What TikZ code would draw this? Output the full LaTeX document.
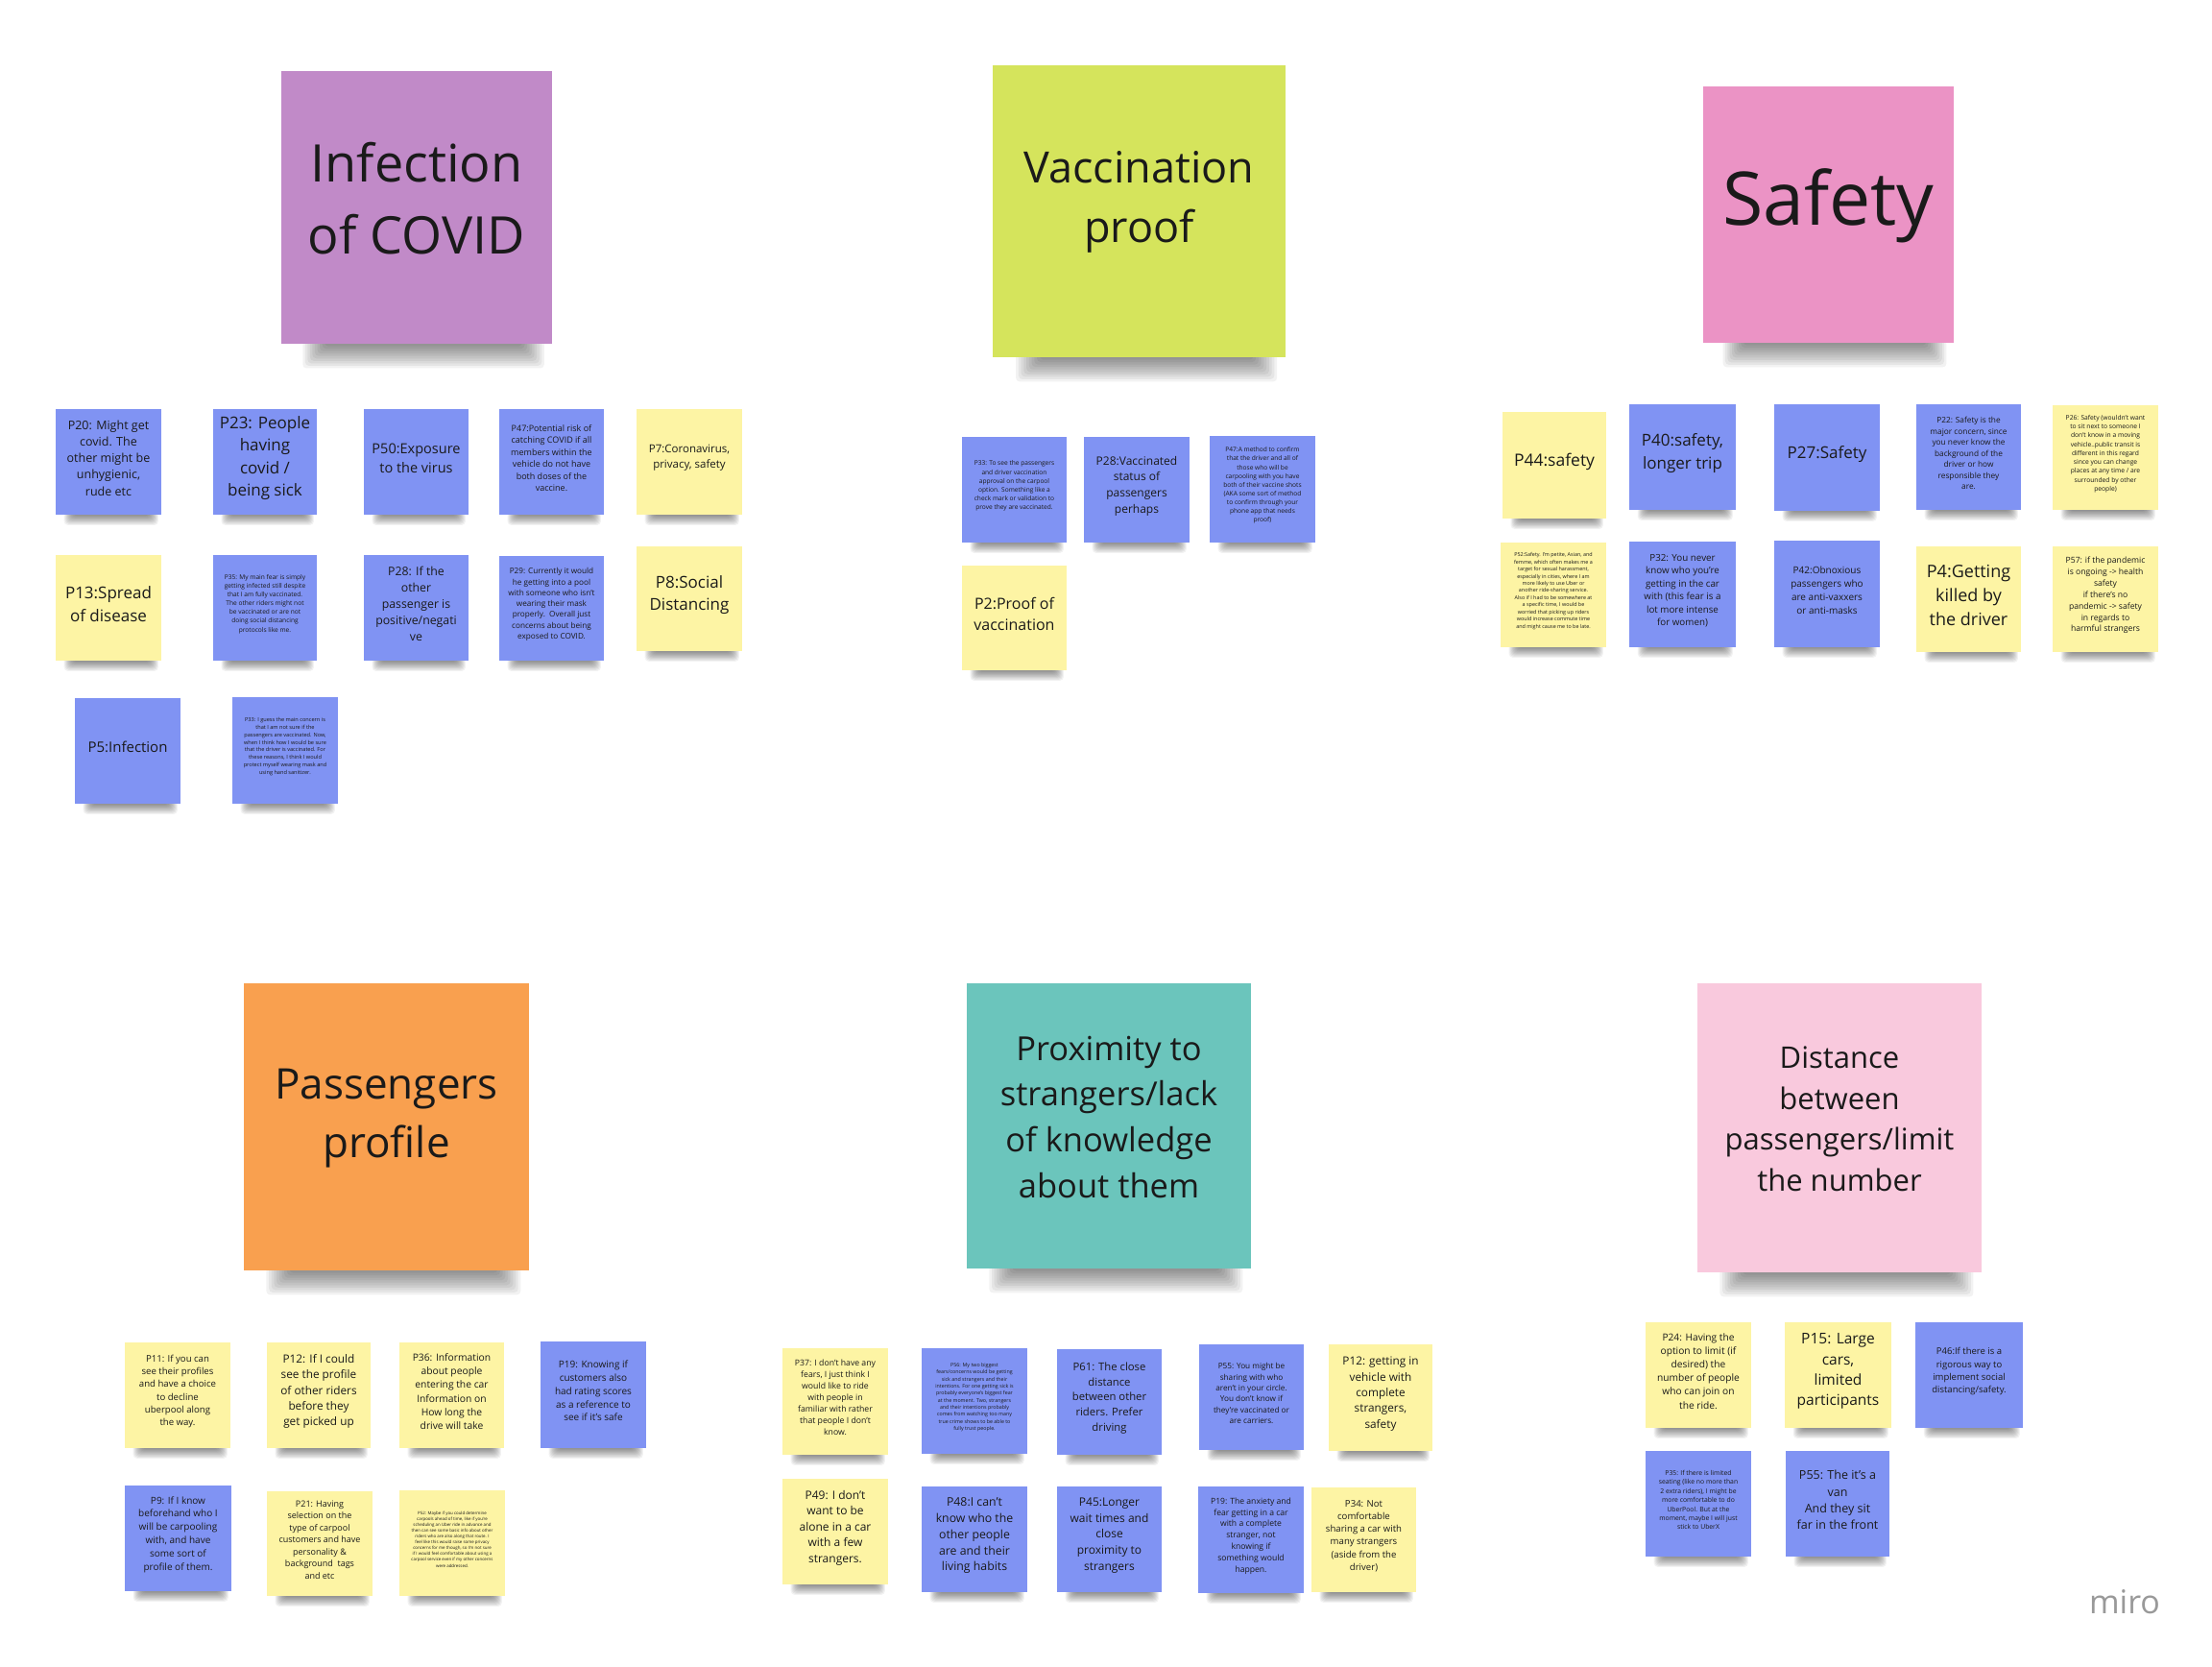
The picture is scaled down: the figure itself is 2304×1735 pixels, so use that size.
\documentclass[tikz,border=0pt]{standalone}
\usepackage{fontspec}
\setmainfont{Open Sans}
\definecolor{nblue}{HTML}{8093F3}
\definecolor{nyel}{HTML}{FDF4A4}
\definecolor{cpurple}{HTML}{C18AC8}
\definecolor{clime}{HTML}{D5E45C}
\definecolor{cpink}{HTML}{EB93C5}
\definecolor{corange}{HTML}{F9A04F}
\definecolor{cteal}{HTML}{6BC5BC}
\definecolor{clpink}{HTML}{F9C9DD}
\definecolor{ink}{HTML}{1A1A1A}
\newcommand\fsz[1]{\pgfmathsetmacro\mybls{1.38*#1}\fontsize{#1}{\mybls}\selectfont}
\tikzset{
  tsz/.style={font=\fsz{#1}},
  anote/.style={rectangle, inner sep=0pt, align=center, text=ink},
  bnote/.style={anote, fill=nblue},
  ynote/.style={anote, fill=nyel},
  hnote/.style={anote},
}
\newcommand\nshadow[5]{%
  \pgfmathsetmacro\shw{#3-#1}%
  \foreach \i in {1,...,10}{%
    \pgfmathsetmacro\sa{#1+0.07*\shw+\i*0.009*\shw}%
    \pgfmathsetmacro\sb{#3-0.02*\shw-\i*0.009*\shw}%
    \pgfmathsetmacro\sd{#4+#5*(1-\i/11)}%
    \fill[black,opacity=0.05,rounded corners=4pt] (\sa,#4-4) rectangle (\sb,\sd);
  }%
}
\newcommand\stick[8][12]{%
  \nshadow{#4}{#5}{#6}{#7}{#1}%
  \pgfmathsetmacro\cw{#6-#4}\pgfmathsetmacro\ch{#7-#5}%
  \pgfmathsetmacro\cx{(#4+#6)/2}\pgfmathsetmacro\cy{(#5+#7)/2}%
  \pgfmathsetmacro\tup{0.33*#1}%
  \node[#3, minimum width=\cw pt, minimum height=\ch pt] (#2) at (\cx,\cy) {};
  \node[#3, fill=none, yshift=\tup pt] (#2-text) at (#2.center) {#8};
}
\begin{document}
\begin{tikzpicture}[x=1pt,y=-1pt]
\path[use as bounding box, fill=white] (0,0) rectangle (2304,1735);

% ---------- headers ----------
\stick[28]{hinf}{hnote,fill=cpurple,tsz=54}{293}{74}{575}{358}{Infection\\of COVID}
\stick[28]{hvac}{hnote,fill=clime,tsz=45}{1034}{68}{1339}{372}{Vaccination\\proof}
\stick[28]{hsaf}{hnote,fill=cpink,tsz=77}{1774}{90}{2035}{357}{Safety}
\stick[28]{hpas}{hnote,fill=corange,tsz=44}{254}{1024}{551}{1323}{Passengers\\profile}
\stick[28]{hpro}{hnote,fill=cteal,tsz=34.5}{1007}{1024}{1303}{1321}{Proximity to\\strangers/lack\\of knowledge\\about them}
\stick[28]{hdis}{hnote,fill=clpink,tsz=31}{1768}{1024}{2064}{1325}{Distance\\between\\passengers/limit\\the number}

% ---------- infection of covid ----------
\stick{p20}{bnote,tsz=12.5}{58}{426}{168}{536}{P20: Might get\\covid. The\\other might be\\unhygienic,\\rude etc}
\stick{p23}{bnote,tsz=17}{222}{426}{330}{536}{P23: People\\having\\covid /\\being sick}
\stick{p50}{bnote,tsz=14.5}{379}{426}{488}{536}{P50:Exposure\\to the virus}
\stick{p47a}{bnote,tsz=9}{520}{426}{629}{536}{P47:Potential risk of\\catching COVID if all\\members within the\\vehicle do not have\\both doses of the\\vaccine.}
\stick{p7}{ynote,tsz=11.5}{663}{426}{773}{536}{P7:Coronavirus,\\privacy, safety}
\stick{p13}{ynote,tsz=17}{58}{578}{168}{688}{P13:Spread\\of disease}
\stick{p35a}{bnote,tsz=6.6}{222}{578}{330}{688}{P35: My main fear is simply\\getting infected still despite\\that I am fully vaccinated.\\The other riders might not\\be vaccinated or are not\\doing social distancing\\protocols like me.}
\stick{p28a}{bnote,tsz=12.3}{379}{578}{488}{688}{P28: If the\\other\\passenger is\\positive/negati\\ve}
\stick{p29}{bnote,tsz=8.2}{520}{579}{629}{688}{P29: Currently it would\\he getting into a pool\\with someone who isn't\\wearing their mask\\properly.\ \ Overall just\\concerns about being\\exposed to COVID.}
\stick{p8}{ynote,tsz=17}{663}{569}{773}{678}{P8:Social\\Distancing}
\stick{p5}{bnote,tsz=15}{78}{727}{188}{837}{P5:Infection}
\stick{p33a}{bnote,tsz=5.6}{242}{726}{352}{837}{P33: I guess the main concern is\\that I am not sure if the\\passengers are vaccinated. Now,\\when I think how I would be sure\\that the driver is vaccinated. For\\these reasons, I think I would\\protect myself wearing mask and\\using hand sanitizer.}

% ---------- vaccination proof ----------
\stick{p33b}{bnote,tsz=6.6}{1002}{455}{1111}{565}{P33: To see the passengers\\and driver vaccination\\approval on the carpool\\option. Something like a\\check mark or validation to\\prove they are vaccinated.}
\stick{p28b}{bnote,tsz=12}{1129}{455}{1239}{565}{P28:Vaccinated\\status of\\passengers\\perhaps}
\stick{p47b}{bnote,tsz=6.6}{1260}{454}{1370}{565}{P47:A method to confirm\\that the driver and all of\\those who will be\\carpooling with you have\\both of their vaccine shots\\(AKA some sort of method\\to confirm through your\\phone app that needs\\proof)}
\stick{p2}{ynote,tsz=16}{1002}{589}{1111}{698}{P2:Proof of\\vaccination}

% ---------- safety ----------
\stick{p44}{ynote,tsz=17.5}{1565}{429}{1673}{540}{P44:safety}
\stick{p40}{bnote,tsz=17}{1697}{421}{1808}{531}{P40:safety,\\longer trip}
\stick{p27}{bnote,tsz=17}{1848}{421}{1958}{532}{P27:Safety}
\stick{p22}{bnote,tsz=8.3}{1996}{421}{2105}{531}{P22: Safety is the\\major concern, since\\you never know the\\background of the\\driver or how\\responsible they\\are.}
\stick{p26}{ynote,tsz=6.7}{2138}{422}{2248}{531}{P26: Safety (wouldn't want\\to sit next to someone I\\don't know in a moving\\vehicle..public transit is\\different in this regard\\since you can change\\places at any time / are\\surrounded by other\\people)}
\stick{p52a}{ynote,tsz=5.4}{1563}{565}{1673}{674}{P52:Safety. I'm petite, Asian, and\\femme, which often makes me a\\target for sexual harassment,\\especially in cities, where I am\\more likely to use Uber or\\another ride-sharing service.\\Also if I had to be somewhere at\\a specific time, I would be\\worried that picking up riders\\would increase commute time\\and might cause me to be late.}
\stick{p32}{bnote,tsz=9.8}{1697}{564}{1808}{674}{P32: You never\\know who you're\\getting in the car\\with (this fear is a\\lot more intense\\for women)}
\stick{p42}{bnote,tsz=10}{1848}{563}{1958}{674}{P42:Obnoxious\\passengers who\\are anti-vaxxers\\or anti-masks}
\stick{p4}{ynote,tsz=18}{1996}{569}{2105}{679}{P4:Getting\\killed by\\the driver}
\stick{p57}{ynote,tsz=8.6}{2138}{569}{2248}{679}{P57: if the pandemic\\is ongoing -> health\\safety\\if there's no\\pandemic -> safety\\in regards to\\harmful strangers}

% ---------- passengers profile ----------
\stick{p11}{ynote,tsz=9.6}{130}{1398}{240}{1508}{P11: If you can\\see their profiles\\and have a choice\\to decline\\uberpool along\\the way.}
\stick{p12a}{ynote,tsz=11.8}{278}{1398}{386}{1508}{P12: If I could\\see the profile\\of other riders\\before they\\get picked up}
\stick{p36}{ynote,tsz=10.3}{416}{1398}{525}{1508}{P36: Information\\about people\\entering the car\\Information on\\How long the\\drive will take}
\stick{p19a}{bnote,tsz=10}{563}{1397}{673}{1508}{P19: Knowing if\\customers also\\had rating scores\\as a reference to\\see if it's safe}
\stick{p9}{bnote,tsz=10}{130}{1547}{241}{1657}{P9: If I know\\beforehand who I\\will be carpooling\\with, and have\\some sort of\\profile of them.}
\stick{p21}{ynote,tsz=9}{278}{1553}{388}{1662}{P21: Having\\selection on the\\type of carpool\\customers and have\\personality \&\\background\ \ tags\\and etc}
\stick{p52b}{ynote,tsz=4.4}{416}{1552}{526}{1662}{P52: Maybe if you could determine\\carpools ahead of time, like if you're\\scheduling an Uber ride in advance and\\then can see some basic info about other\\riders who are also along that route. I\\feel like this would raise some privacy\\concerns for me though, so I'm not sure\\if I would feel comfortable about using a\\carpool service even if my other concerns\\were addressed.}

% ---------- proximity ----------
\stick{p37}{ynote,tsz=8.7}{815}{1404}{925}{1515}{P37: I don’t have any\\fears, I just think I\\would like to ride\\with people in\\familiar with rather\\that people I don’t\\know.}
\stick{p56}{bnote,tsz=5.3}{960}{1404}{1070}{1514}{P56: My two biggest\\fears/concerns would be getting\\sick and strangers and their\\intentions. For one getting sick is\\probably everyone's biggest fear\\at the moment. Two, strangers\\and their intentions probably\\comes from watching too many\\true crime shows to be able to\\fully trust people.}
\stick{p61}{bnote,tsz=11.3}{1101}{1405}{1210}{1515}{P61: The close\\distance\\between other\\riders. Prefer\\driving}
\stick{p55a}{bnote,tsz=8.2}{1249}{1400}{1358}{1510}{P55: You might be\\sharing with who\\aren’t in your circle.\\You don’t know if\\they’re vaccinated or\\are carriers.}
\stick{p12b}{ynote,tsz=11.8}{1384}{1400}{1492}{1511}{P12: getting in\\vehicle with\\complete\\strangers,\\safety}
\stick{p49}{ynote,tsz=12}{815}{1540}{925}{1650}{P49: I don’t\\want to be\\alone in a car\\with a few\\strangers.}
\stick{p48}{bnote,tsz=12.3}{960}{1548}{1070}{1658}{P48:I can’t\\know who the\\other people\\are and their\\living habits}
\stick{p45}{bnote,tsz=12}{1101}{1548}{1210}{1658}{P45:Longer\\wait times and\\close\\proximity to\\strangers}
\stick{p19b}{bnote,tsz=8.6}{1248}{1548}{1358}{1659}{P19: The anxiety and\\fear getting in a car\\with a complete\\stranger, not\\knowing if\\something would\\happen.}
\stick{p34}{ynote,tsz=9.6}{1366}{1549}{1475}{1658}{P34: Not\\comfortable\\sharing a car with\\many strangers\\(aside from the\\driver)}

% ---------- distance ----------
\stick{p24}{ynote,tsz=10.2}{1714}{1377}{1824}{1487}{P24: Having the\\option to limit (if\\desired) the\\number of people\\who can join on\\the ride.}
\stick{p15}{ynote,tsz=15.5}{1859}{1377}{1970}{1487}{P15: Large\\cars,\\limited\\participants}
\stick{p46}{bnote,tsz=9.5}{1995}{1377}{2107}{1487}{P46:If there is a\\rigorous way to\\implement social\\distancing/safety.}
\stick{p35b}{bnote,tsz=6.8}{1714}{1511}{1824}{1621}{P35: If there is limited\\seating (like no more than\\2 extra riders), I might be\\more comfortable to do\\UberPool. But at the\\moment, maybe I will just\\stick to UberX}
\stick{p55b}{bnote,tsz=12.5}{1860}{1511}{1968}{1621}{P55: The it’s a\\van\\And they sit\\far in the front}

\node[text=black!40, font=\fontsize{34}{40}\selectfont] (miro) at (2213,1668) {miro};
\end{tikzpicture}
\end{document}
